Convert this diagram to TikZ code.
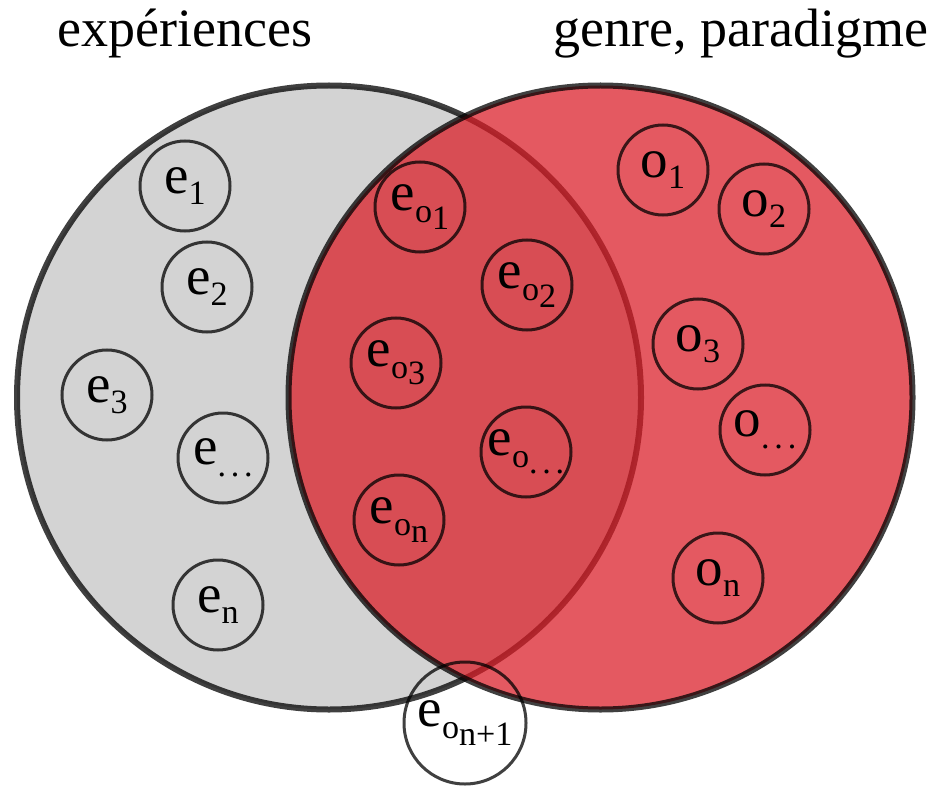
\documentclass[tikz,border=0pt]{standalone}
\usepackage{fontspec}
\setmainfont{LiberationSerif}[Extension=.ttf, UprightFont=*-Regular, BoldFont=*-Bold, ItalicFont=*-Italic, BoldItalicFont=*-BoldItalic]
\definecolor{greyfill}{RGB}{211,211,211}
\definecolor{redfill}{RGB}{218,28,38}
% first-level subscript (lowered, reduced)
\newcommand\sbs[1]{\raisebox{-0.21em}{\scalebox{0.62}{#1}}}
% second-level subscript (lowered further, same size)
\newcommand\sbb[1]{\raisebox{-0.2em}{#1}}
\newcommand\dts{.\kern0.14em.\kern0.14em.}
\tikzset{
  big/.style={circle, draw=black, draw opacity=0.75, line width=6pt, inner sep=0pt, minimum size=624pt},
  small/.style={circle, draw=black, draw opacity=0.75, line width=3pt, inner sep=0pt, minimum size=90pt, text opacity=1,
    font=\fontsize{55}{60}\selectfont},
  title/.style={anchor=base, font=\fontsize{54}{60}\selectfont}
}
\begin{document}
\begin{tikzpicture}[x=1pt,y=-1pt]
\useasboundingbox (0,0) rectangle (939,786);
\node[title] (t1) at (185,47) {expériences};
\node[title] (t2) at (741,47) {genre, paradigme};
\node[big, fill=greyfill] (E) at (329,397.5) {};
\node[big, fill=redfill, fill opacity=0.73, text opacity=1] (O) at (600.5,397.5) {};
% e only
\node[small] (e1) at (185,186) {e\sbs{1}};
\node[small] (e2) at (207,287) {e\sbs{2}};
\node[small] (e3) at (107,395) {e\sbs{3}};
\node[small] (edots) at (223,458) {e\sbs{\dts}};
\node[small] (en) at (218,605) {e\sbs{n}};
% intersection
\node[small] (eo1) at (420,207) {e\sbs{o\sbb{1}}};
\node[small] (eo2) at (527,285) {e\sbs{o\sbb{2}}};
\node[small] (eo3) at (396,363) {e\sbs{o\sbb{3}}};
\node[small] (eodots) at (526,452) {e\sbs{o\sbb{\dts}}};
\node[small] (eon) at (399,520) {e\sbs{o\sbb{n}}};
\node[small, minimum size=122pt] (eon1) at (465,723) {e\sbs{o\sbb{n+1}}};
% o only
\node[small] (o1) at (663,170) {o\sbs{1}};
\node[small] (o2) at (764,209) {o\sbs{2}};
\node[small] (o3) at (698,344) {o\sbs{3}};
\node[small] (odots) at (765,430) {o\sbs{\dts}};
\node[small] (on) at (718,578) {o\sbs{n}};
\end{tikzpicture}
\end{document}
